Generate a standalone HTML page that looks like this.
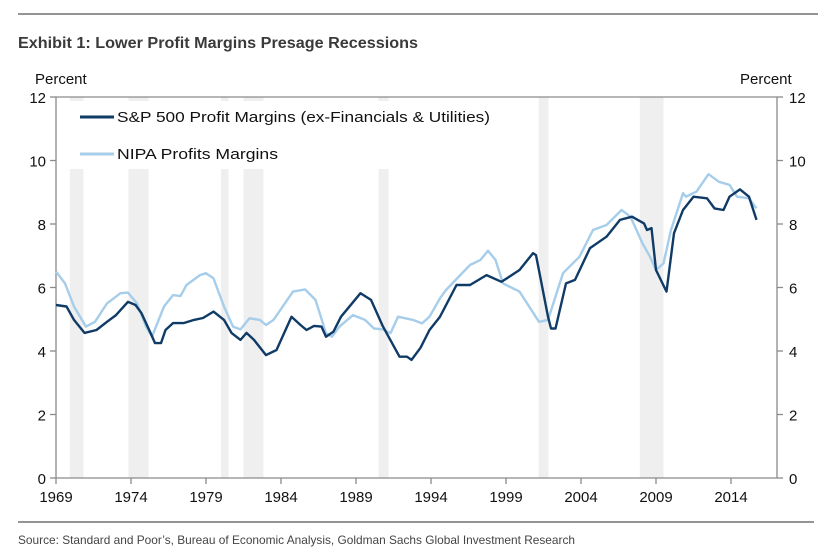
<!DOCTYPE html>
<html><head><meta charset="utf-8"><style>
html,body{margin:0;padding:0;background:#fff;}
svg{display:block;font-family:"Liberation Sans",sans-serif;}
</style></head><body>
<svg id="chart" width="832" height="553" viewBox="0 0 832 553" xmlns="http://www.w3.org/2000/svg">
<line x1="18" y1="14" x2="818" y2="14" stroke="#555" stroke-width="1.3"/>
<text x="18" y="48" font-size="16" font-weight="bold" fill="#3a3a3a" textLength="400" lengthAdjust="spacingAndGlyphs">Exhibit 1: Lower Profit Margins Presage Recessions</text>
<text x="35" y="84" font-size="15" fill="#111">Percent</text>
<text x="740" y="84" font-size="15" fill="#111">Percent</text>
<g id="bands"></g>
<rect x="60" y="101" width="440" height="68" fill="#fff"/>
<g id="axes"></g>
<g id="series"></g>
<g>
<line x1="80" y1="117" x2="114" y2="117" stroke="#0f3b66" stroke-width="3"/>
<text x="117" y="122" font-size="15" fill="#111" textLength="373" lengthAdjust="spacingAndGlyphs">S&amp;P 500 Profit Margins (ex-Financials &amp; Utilities)</text>
<line x1="80" y1="154" x2="114" y2="154" stroke="#a6cdea" stroke-width="3"/>
<text x="117" y="159" font-size="15" fill="#111" textLength="161" lengthAdjust="spacingAndGlyphs">NIPA Profits Margins</text>
</g>
<line x1="18" y1="522" x2="814" y2="522" stroke="#555" stroke-width="1.3"/>
<text x="18" y="544" font-size="12" fill="#444" textLength="557" lengthAdjust="spacingAndGlyphs">Source: Standard and Poor’s, Bureau of Economic Analysis, Goldman Sachs Global Investment Research</text>
</svg>
<script>
const recessions=[[1969.92,1970.83],[1973.83,1975.17],[1980.0,1980.5],[1981.5,1982.83],[1990.5,1991.17],[2001.17,2001.83],[2007.92,2009.5]];
const xTicks=[1969,1974,1979,1984,1989,1994,1999,2004,2009,2014];
const yTicks=[0,2,4,6,8,10,12];
const spYears=[1969.0,1969.7,1970.2,1970.9,1971.7,1972.4,1973.0,1973.8,1974.3,1974.7,1975.3,1975.6,1976.0,1976.3,1976.8,1977.5,1978.2,1978.8,1979.5,1980.2,1980.7,1981.3,1981.7,1982.2,1983.0,1983.7,1984.7,1985.3,1985.7,1986.2,1986.7,1987.0,1987.5,1988.0,1989.3,1990.0,1990.8,1991.9,1992.4,1992.7,1993.3,1993.9,1994.6,1995.7,1996.6,1997.7,1998.7,1999.9,2000.8,2001.0,2001.8,2002.0,2002.3,2003.0,2003.6,2004.6,2005.7,2006.6,2007.4,2008.2,2008.4,2008.7,2009.0,2009.7,2010.2,2010.8,2011.5,2012.4,2012.9,2013.5,2013.9,2014.6,2015.2,2015.7];
const spValues=[5.45,5.40,4.98,4.57,4.66,4.92,5.13,5.55,5.45,5.19,4.57,4.25,4.25,4.66,4.88,4.88,4.98,5.04,5.24,4.98,4.57,4.35,4.57,4.35,3.87,4.03,5.08,4.82,4.66,4.79,4.77,4.45,4.61,5.08,5.82,5.61,4.77,3.82,3.82,3.72,4.10,4.66,5.08,6.08,6.08,6.39,6.18,6.55,7.08,7.02,5.08,4.71,4.71,6.13,6.24,7.24,7.60,8.13,8.23,8.02,7.81,7.87,6.55,5.87,7.71,8.44,8.86,8.81,8.49,8.44,8.86,9.09,8.86,8.13];
const nipaYears=[1969.0,1969.6,1970.2,1971.0,1971.6,1972.4,1973.3,1973.8,1974.4,1975.0,1975.4,1976.2,1976.8,1977.3,1977.7,1978.6,1979.0,1979.5,1980.2,1980.8,1981.3,1981.9,1982.6,1983.0,1983.5,1984.8,1985.6,1986.3,1987.0,1987.4,1987.9,1988.8,1989.6,1990.2,1990.8,1991.3,1991.8,1992.8,1993.4,1993.9,1994.6,1995.0,1996.6,1997.3,1997.8,1998.3,1998.8,1999.9,2001.2,2001.8,2002.8,2003.9,2004.8,2005.7,2006.7,2007.3,2008.1,2008.6,2009.0,2009.5,2010.0,2010.8,2011.0,2011.7,2012.5,2013.2,2013.9,2014.4,2015.2,2015.7];
const nipaValues=[6.50,6.13,5.40,4.77,4.92,5.50,5.82,5.84,5.50,4.77,4.45,5.40,5.76,5.73,6.08,6.39,6.45,6.29,5.40,4.77,4.68,5.03,4.98,4.82,4.98,5.87,5.94,5.61,4.56,4.45,4.77,5.13,4.98,4.71,4.68,4.56,5.08,4.98,4.87,5.08,5.66,5.92,6.71,6.87,7.16,6.87,6.13,5.87,4.92,4.98,6.45,6.97,7.81,7.97,8.44,8.23,7.39,6.97,6.55,6.76,7.81,8.97,8.86,9.02,9.57,9.33,9.23,8.86,8.81,8.49];

const NS='http://www.w3.org/2000/svg';
const X0=56,X1=777,Y0=478,Y1=97,YR0=1969,PX=15;
const xS=y=>X0+(y-YR0)*PX;
const yS=v=>Y0-(v/12)*(Y0-Y1);
function mk(tag,attrs,parent,txt){const e=document.createElementNS(NS,tag);for(const k in attrs)e.setAttribute(k,attrs[k]);if(txt!==undefined)e.textContent=txt;parent.appendChild(e);return e;}
const bands=document.getElementById('bands');
recessions.forEach(r=>{
 const e=mk('rect',{x:xS(r[0]),y:Y1,width:xS(r[1])-xS(r[0]),height:Y0-Y1,fill:'#efefef'},bands);
 
 
});
const ax=document.getElementById('axes');
const st={stroke:'#8a8a8a','stroke-width':1.3};
let e;
e=mk('line',Object.assign({x1:X0,y1:Y0,x2:X1,y2:Y0},st),ax);


e=mk('line',Object.assign({x1:X0,y1:Y1,x2:X0,y2:Y0},st),ax);


e=mk('line',Object.assign({x1:X1,y1:Y1,x2:X1,y2:Y0},st),ax);


e=mk('line',Object.assign({x1:X0,y1:Y1,x2:X1,y2:Y1},st),ax);


xTicks.forEach(t=>{
 const x=xS(t);
 e=mk('line',Object.assign({x1:x,y1:Y0,x2:x,y2:Y0+6},st),ax);
 
 
 e=mk('text',{x:x,y:Y0+24,'font-size':15,'text-anchor':'middle',fill:'#111'},ax,String(t));
 
 
});
yTicks.forEach(t=>{
 const y=yS(t);
 e=mk('line',Object.assign({x1:X0-6,y1:y,x2:X0,y2:y},st),ax);
 
 
 e=mk('line',Object.assign({x1:X1,y1:y,x2:X1+6,y2:y},st),ax);
 
 
 e=mk('text',{x:X0-10,y:y+6,'font-size':15,'text-anchor':'end',fill:'#111'},ax,String(t));
 
 
 e=mk('text',{x:X1+12,y:y+6,'font-size':15,'text-anchor':'start',fill:'#111'},ax,String(t));
 
 
});
const ser=document.getElementById('series');
function path(xs,vs){return xs.map((x,i)=>(i?'L':'M')+xS(x).toFixed(1)+','+yS(vs[i]).toFixed(1)).join(' ');}
e=mk('path',{d:path(nipaYears,nipaValues),fill:'none',stroke:'#a6cdea','stroke-width':2.4,'stroke-linejoin':'round'},ser);


e=mk('path',{d:path(spYears,spValues),fill:'none',stroke:'#0f3b66','stroke-width':2.4,'stroke-linejoin':'round'},ser);


</script>
</body></html>
